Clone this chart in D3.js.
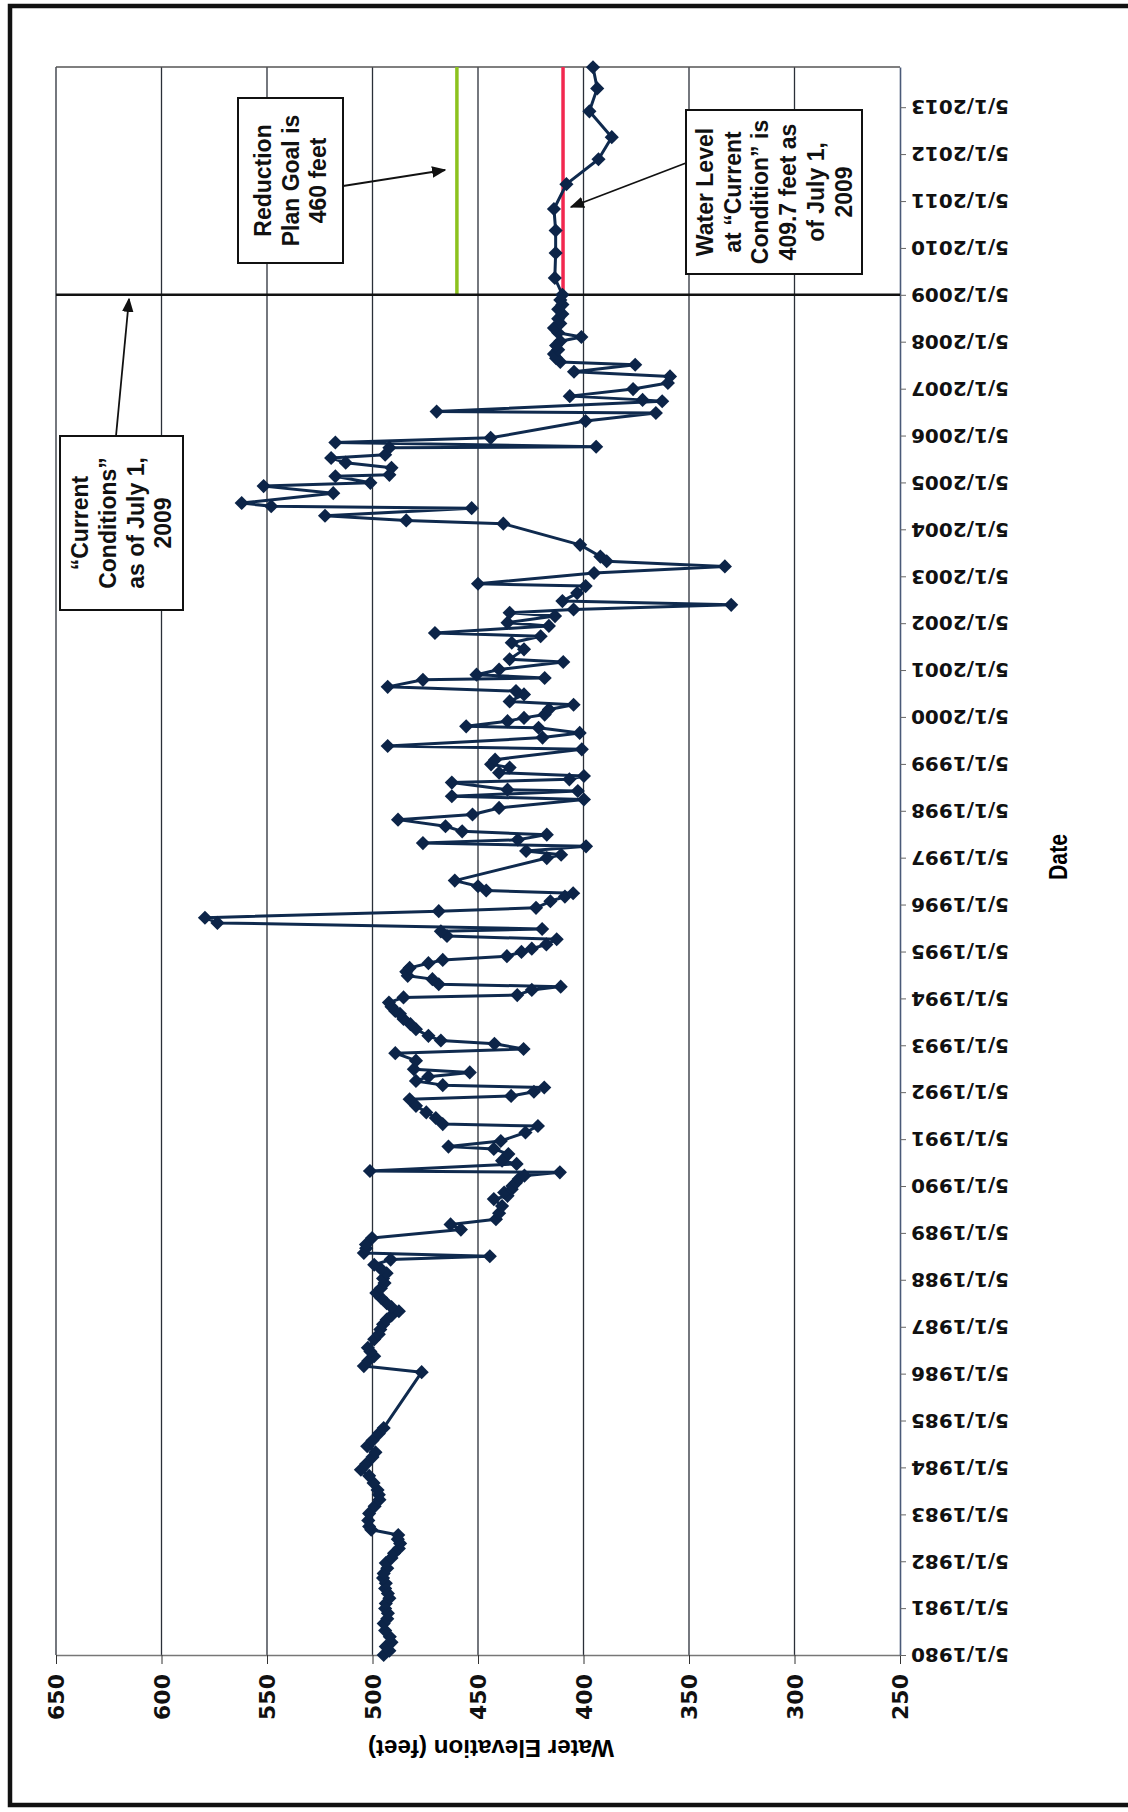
<!DOCTYPE html>
<html>
<head>
<meta charset="utf-8">
<script src="https://cdn.jsdelivr.net/npm/d3@7"></script>
<style>
  html, body { margin: 0; padding: 0; background: #fff; }
  svg { display: block; }
</style>
</head>
<body>
<div class="container"></div>
<script>
const width = 1128;
const height = 1812;

// readings: [decimal year, water elevation in feet]
const readings = [
  [1980.33, 494.7], [1980.42, 492], [1980.51, 493.7], [1980.60, 491], [1980.72, 491.8],
  [1980.85, 494], [1981.00, 494.7], [1981.10, 493], [1981.22, 492.7], [1981.32, 494],
  [1981.43, 493.7], [1981.54, 492], [1981.64, 492.7], [1981.75, 494], [1981.86, 493.7],
  [1981.97, 495], [1982.07, 494.7], [1982.18, 493], [1982.29, 493.7], [1982.40, 491],
  [1982.50, 489.8], [1982.60, 487.5], [1982.71, 486.9], [1982.80, 488], [1982.89, 487.8],
  [1983.00, 500.6], [1983.07, 501.6], [1983.20, 502], [1983.35, 501.6], [1983.50, 499],
  [1983.64, 496.7], [1983.75, 497], [1983.85, 497.6], [1984.00, 499.5], [1984.15, 501.6],
  [1984.28, 505.5], [1984.40, 503], [1984.55, 500], [1984.65, 498.6], [1984.78, 502.5],
  [1984.90, 500], [1985.05, 497], [1985.17, 494.7], [1986.36, 476.7], [1986.49, 504.1],
  [1986.60, 502], [1986.70, 499.2], [1986.80, 501], [1986.88, 502.2], [1987.06, 499.2],
  [1987.17, 497], [1987.27, 496.3], [1987.38, 495], [1987.48, 493.3], [1987.57, 491],
  [1987.66, 487.5], [1987.75, 491], [1987.83, 493.3], [1987.95, 496], [1988.05, 498.2],
  [1988.15, 496], [1988.26, 494.3], [1988.36, 495], [1988.47, 493.3], [1988.56, 496],
  [1988.65, 499.2], [1988.76, 491.4], [1988.83, 444.4], [1988.90, 504.1], [1989.00, 503],
  [1989.08, 503.1], [1989.22, 500.2], [1989.40, 458.1], [1989.51, 463], [1989.62, 441.5],
  [1989.75, 440], [1989.90, 438.6], [1990.05, 442.5], [1990.12, 436], [1990.19, 437.6],
  [1990.26, 434], [1990.33, 433.7], [1990.40, 432], [1990.48, 430.7], [1990.55, 428],
  [1990.62, 411.2], [1990.65, 501.2], [1990.80, 431.7], [1990.87, 438.6], [1991.01, 435.6],
  [1991.12, 442.5], [1991.17, 464], [1991.29, 439.2], [1991.47, 427.5], [1991.61, 421.6],
  [1991.65, 466.7], [1991.78, 470], [1991.90, 474.5], [1992.04, 479.4], [1992.18, 482.4],
  [1992.25, 434.3], [1992.34, 423.5], [1992.43, 418.6], [1992.48, 466.7], [1992.57, 479.4],
  [1992.66, 473.5], [1992.75, 453.9], [1992.82, 480.4], [1993.00, 479.4], [1993.16, 489.2],
  [1993.25, 428.4], [1993.36, 442.2], [1993.43, 467.6], [1993.53, 473.5], [1993.67, 479.4],
  [1993.78, 482], [1993.89, 485.3], [1994.00, 487], [1994.06, 489.2], [1994.15, 491],
  [1994.24, 492.2], [1994.35, 485.3], [1994.40, 431.4], [1994.51, 424.5], [1994.58, 410.8],
  [1994.63, 468.6], [1994.74, 471.6], [1994.81, 483.3], [1994.90, 484], [1994.98, 482.4],
  [1995.08, 473.5], [1995.15, 466.7], [1995.23, 436.3], [1995.32, 429.4], [1995.39, 424.5],
  [1995.48, 417.6], [1995.59, 412.7], [1995.66, 464.7], [1995.76, 467.6], [1995.81, 419.6],
  [1995.94, 573.5], [1996.05, 579.4], [1996.19, 468.6], [1996.26, 422.5], [1996.40, 415.7],
  [1996.50, 408.8], [1996.57, 404.9], [1996.63, 446.1], [1996.72, 450], [1996.84, 461],
  [1997.32, 417.4], [1997.39, 410.6], [1997.47, 427.2], [1997.57, 398.8], [1997.64, 476.1],
  [1997.71, 431.1], [1997.82, 417.4], [1997.89, 457.5], [1998.00, 465.4], [1998.14, 487.9],
  [1998.25, 452.6], [1998.39, 440], [1998.57, 399.8], [1998.64, 462.4], [1998.75, 402.7],
  [1998.78, 436], [1998.93, 462.4], [1999.00, 406.7], [1999.07, 399.8], [1999.14, 440],
  [1999.25, 435], [1999.32, 443.8], [1999.42, 441.9], [1999.64, 400.8], [1999.71, 492.8],
  [1999.89, 419.4], [1999.99, 401.8], [2000.10, 421.3], [2000.13, 455.6], [2000.24, 436],
  [2000.31, 428.2], [2000.38, 418.4], [2000.49, 416.4], [2000.59, 404.7], [2000.66, 435],
  [2000.81, 428.2], [2000.88, 432], [2000.97, 492.8], [2001.12, 476.1], [2001.16, 418.4],
  [2001.23, 450.7], [2001.34, 440], [2001.50, 409.6], [2001.56, 435], [2001.77, 428.2],
  [2001.91, 434], [2002.05, 420.3], [2002.12, 470.4], [2002.27, 416.4], [2002.34, 436],
  [2002.48, 413.5], [2002.55, 435], [2002.62, 404.7], [2002.72, 330], [2002.80, 410],
  [2002.97, 403], [2003.12, 399], [2003.17, 450], [2003.40, 395], [2003.54, 333],
  [2003.65, 389], [2003.75, 392], [2004.00, 401.6], [2004.45, 438], [2004.52, 484],
  [2004.62, 522.5], [2004.78, 453], [2004.82, 548], [2004.89, 562], [2005.10, 518.6],
  [2005.25, 551.6], [2005.32, 501], [2005.46, 517.6], [2005.49, 492], [2005.64, 491],
  [2005.75, 512.7], [2005.85, 519.6], [2005.92, 494], [2006.07, 492], [2006.09, 394],
  [2006.18, 517.6], [2006.28, 444], [2006.64, 399], [2006.81, 365.7], [2006.84, 469.6],
  [2007.06, 362.7], [2007.09, 372], [2007.17, 406.5], [2007.32, 376.5], [2007.45, 360],
  [2007.59, 359], [2007.69, 404.5], [2007.84, 375.5], [2007.90, 411], [2007.98, 413],
  [2008.07, 414], [2008.16, 412], [2008.25, 413], [2008.34, 411], [2008.43, 401],
  [2008.52, 412], [2008.62, 414], [2008.72, 411], [2008.82, 412], [2008.92, 410],
  [2009.02, 412], [2009.12, 410], [2009.22, 411], [2009.33, 410], [2009.69, 413.6],
  [2010.22, 413.2], [2010.70, 413.2], [2011.16, 414], [2011.69, 408.1], [2012.22, 392.9],
  [2012.69, 386.6], [2013.24, 397.2], [2013.73, 393.5], [2014.18, 395.5]
];

const elevationTicks = [650, 600, 550, 500, 450, 400, 350, 300, 250];
const dateTickYears = d3.range(1980, 2014);
const goalElevation = 460;
const currentElevation = 409.7;
const currentDate = "2009-05-01";

const currentNote = ["\u201CCurrent", "Conditions\u201D", "as of July 1,", "2009"];
const goalNote = ["Reduction", "Plan Goal is", "460 feet"];
const levelNote = ["Water Level", "at \u201CCurrent", "Condition\u201D is", "409.7 feet as", "of July 1,", "2009"];

const yearToDate = (yf) => {
  const yr = Math.floor(yf);
  const start = new Date(yr, 0, 1);
  const end = new Date(yr + 1, 0, 1);
  return new Date(+start + (yf - yr) * (end - start));
};

const data = readings.map(([yf, v]) => ({ date: yearToDate(yf), value: v }));

const plotTop = 67;
const plotBottom = 1655;
const plotLeft = 56;
const plotRight = 900;

// chart is drawn turned: elevation runs across, time runs up the page
const x = d3.scaleLinear().domain([650, 250]).range([plotLeft, plotRight]);
const y = d3.scaleTime()
  .domain([new Date(1980, 4, 1), new Date(2014, 2, 10)])
  .range([plotBottom, plotTop]);

const svg = d3.select(".container")
  .append("svg")
  .attr("width", width)
  .attr("height", height)
  .attr("viewBox", `0 0 ${width} ${height}`);

svg.append("rect")
  .attr("width", width)
  .attr("height", height)
  .attr("fill", "#fff");

// outer frame
svg.append("rect")
  .attr("x", 10)
  .attr("y", 6)
  .attr("width", width + 20)
  .attr("height", 1799)
  .attr("fill", "none")
  .attr("stroke", "#111")
  .attr("stroke-width", 4.5);

// gridlines
svg.append("g")
  .selectAll("line")
  .data(elevationTicks.filter(d => d !== 250))
  .join("line")
  .attr("x1", d => x(d))
  .attr("x2", d => x(d))
  .attr("y1", plotTop)
  .attr("y2", plotBottom)
  .attr("stroke", "#2a2f38")
  .attr("stroke-width", 1.3);

// top border of plot area
svg.append("line")
  .attr("x1", plotLeft)
  .attr("x2", plotRight)
  .attr("y1", plotTop)
  .attr("y2", plotTop)
  .attr("stroke", "#555")
  .attr("stroke-width", 1.5);

// elevation axis (bottom)
const elevAxis = svg.append("g")
  .attr("transform", `translate(0,${plotBottom})`)
  .call(d3.axisBottom(x).tickValues(elevationTicks).tickSize(9).tickSizeOuter(0));
elevAxis.select(".domain").attr("stroke", "#777").attr("stroke-width", 1.5);
elevAxis.selectAll(".tick line").attr("stroke", "#333");
elevAxis.selectAll(".tick text")
  .attr("transform", "rotate(-90)")
  .attr("x", -19)
  .attr("y", 0)
  .attr("dy", "0.36em")
  .attr("text-anchor", "end")
  .style("font-family", "'DejaVu Sans', sans-serif")
  .style("font-weight", "bold")
  .style("font-size", "22px")
  .attr("fill", "#111");

// date axis (right)
const dateAxis = svg.append("g")
  .attr("transform", `translate(${plotRight},0)`)
  .call(d3.axisRight(y)
    .tickValues(dateTickYears.map(yr => new Date(yr, 4, 1)))
    .tickFormat(d3.timeFormat("%-m/%-d/%Y"))
    .tickSize(6)
    .tickSizeOuter(0));
dateAxis.select(".domain").attr("stroke", "#4a5a78").attr("stroke-width", 1.6);
dateAxis.selectAll(".tick line").attr("stroke", "#666");
dateAxis.selectAll(".tick text")
  .attr("transform", "rotate(180)")
  .attr("x", -11)
  .attr("dy", "0.36em")
  .attr("text-anchor", "end")
  .style("font-family", "'DejaVu Sans', sans-serif")
  .style("font-weight", "bold")
  .style("font-size", "20px")
  .attr("fill", "#111");

// axis titles
svg.append("text")
  .attr("transform", `translate(1058,857) rotate(-90)`)
  .attr("text-anchor", "middle")
  .attr("dy", "0.36em")
  .attr("textLength", 46)
  .attr("lengthAdjust", "spacingAndGlyphs")
  .style("font-family", "'Liberation Sans', Arial, sans-serif")
  .style("font-weight", "bold")
  .style("font-size", "26px")
  .text("Date");

svg.append("text")
  .attr("transform", `translate(491,1749) rotate(180)`)
  .attr("text-anchor", "middle")
  .attr("dy", "0.36em")
  .attr("textLength", 246)
  .attr("lengthAdjust", "spacingAndGlyphs")
  .style("font-family", "'Liberation Sans', Arial, sans-serif")
  .style("font-weight", "bold")
  .style("font-size", "24px")
  .text("Water Elevation (feet)");

// goal and current-level lines
const cy = y(new Date(currentDate));
svg.append("line")
  .attr("x1", x(goalElevation)).attr("x2", x(goalElevation))
  .attr("y1", plotTop).attr("y2", cy)
  .attr("stroke", "#8cc21e").attr("stroke-width", 3.5);
svg.append("line")
  .attr("x1", x(currentElevation)).attr("x2", x(currentElevation))
  .attr("y1", plotTop).attr("y2", cy)
  .attr("stroke", "#f2284f").attr("stroke-width", 3.5);

// "current conditions" line
svg.append("line")
  .attr("x1", plotLeft).attr("x2", plotRight)
  .attr("y1", cy).attr("y2", cy)
  .attr("stroke", "#111").attr("stroke-width", 2.5);

// water level series
const line = d3.line().x(d => x(d.value)).y(d => y(d.date));
svg.append("path")
  .datum(data)
  .attr("d", line)
  .attr("fill", "none")
  .attr("stroke", "#0f2a4e")
  .attr("stroke-width", 3)
  .attr("stroke-linejoin", "round");

svg.append("g")
  .selectAll("path")
  .data(data)
  .join("path")
  .attr("d", d3.symbol(d3.symbolSquare, 100))
  .attr("transform", d => `translate(${x(d.value)},${y(d.date)}) rotate(45)`)
  .attr("fill", "#0c2448");

// annotations
svg.append("defs")
  .append("marker")
  .attr("id", "arrow")
  .attr("viewBox", "0 0 10 10")
  .attr("refX", 9)
  .attr("refY", 5)
  .attr("markerWidth", 8)
  .attr("markerHeight", 8)
  .attr("markerUnits", "strokeWidth")
  .attr("orient", "auto")
  .append("path")
  .attr("d", "M0,1L10,5L0,9Z")
  .attr("fill", "#111");

const noteBox = (bx, by, bw, bh, lines) => {
  svg.append("rect")
    .attr("x", bx).attr("y", by)
    .attr("width", bw).attr("height", bh)
    .attr("fill", "#fff")
    .attr("stroke", "#111")
    .attr("stroke-width", 2);
  const t = svg.append("text")
    .attr("transform", `translate(${bx + bw / 2},${by + bh / 2}) rotate(-90)`)
    .attr("text-anchor", "middle")
    .style("font-family", "'Liberation Sans', Arial, sans-serif")
    .style("font-weight", "bold")
    .style("font-size", "23px")
    .attr("fill", "#111");
  lines.forEach((s, i) => {
    t.append("tspan")
      .attr("x", 0)
      .attr("y", (i - (lines.length - 1) / 2) * 27.7)
      .attr("dy", "0.36em")
      .text(s);
  });
};

const arrow = (x1, y1, x2, y2) => {
  svg.append("line")
    .attr("x1", x1).attr("y1", y1)
    .attr("x2", x2).attr("y2", y2)
    .attr("stroke", "#111")
    .attr("stroke-width", 1.8)
    .attr("marker-end", "url(#arrow)");
};

noteBox(60, 436, 123, 174, currentNote);
arrow(116, 436, 129, 299);

noteBox(238, 98, 105, 165, goalNote);
arrow(343, 186, 445, 170);

noteBox(686, 110, 176, 164, levelNote);
arrow(686, 163, 571, 207);
</script>
</body>
</html>
